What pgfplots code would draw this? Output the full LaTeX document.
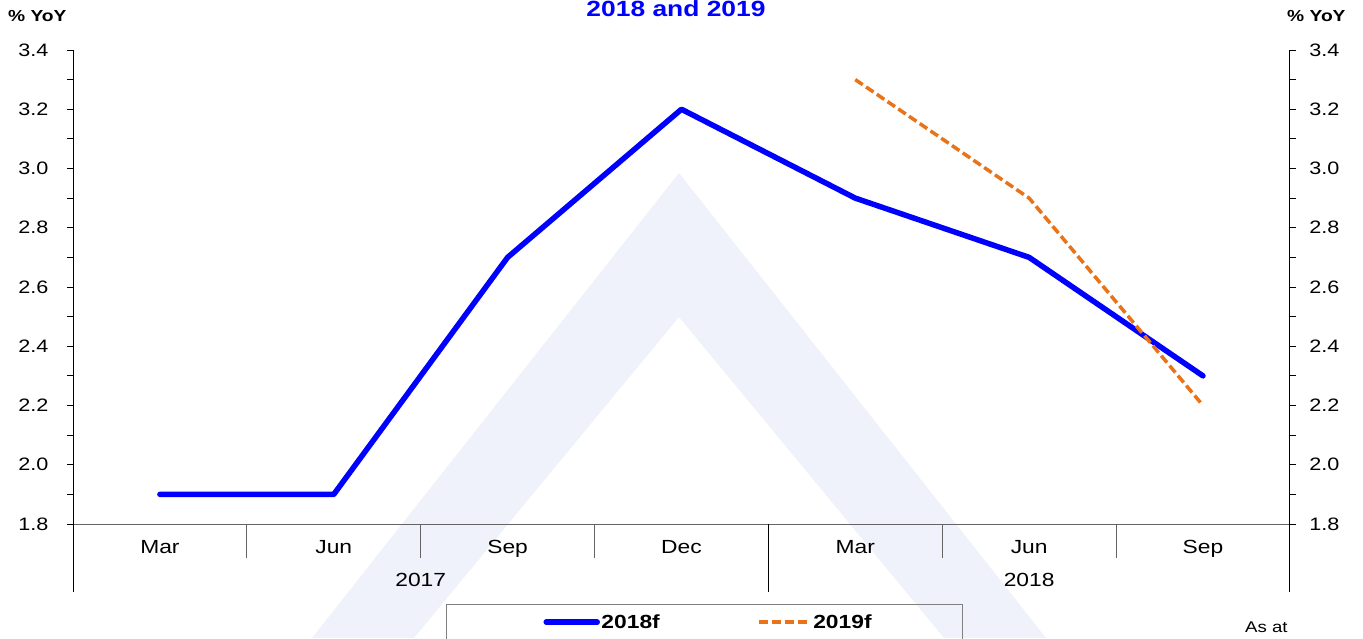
\documentclass[border=0pt]{standalone}
\usepackage{pgfplots}
\usepackage{pgfplotstable}
\pgfplotsset{compat=1.18}
\usepackage{fontspec}
\setmainfont[FakeStretch=1.2]{Liberation Sans}
\definecolor{wm}{RGB}{239,241,251}
\definecolor{orng}{RGB}{232,115,25}
\definecolor{ln}{RGB}{100,100,100}
\definecolor{lg}{RGB}{128,128,128}
\definecolor{ttl}{RGB}{0,0,255}
\pgfplotstableread{
x y
0.5 1.9
1.5 1.9
2.5 2.7
3.5 3.2
4.5 2.9
5.5 2.7
6.5 2.3
}\dataA
\pgfplotstableread{
x y
4.5 3.3
5.5 2.9
6.5 2.2
}\dataB
\pgfplotsset{
  base/.style={
    at={(73pt,114pt)}, anchor=south west, scale only axis,
    width=1217pt, height=474pt,
    xmin=0, xmax=7, ymin=1.8, ymax=3.4,
    ytick={1.8,2.0,2.2,2.4,2.6,2.8,3.0,3.2,3.4}, minor y tick num=1,
    tick align=outside,
    major tick length=6pt, minor tick length=6pt,
    tick style={black, line width=0.8pt},
    /pgf/number format/assume math mode=true,
    y tick label style={/pgf/number format/.cd, fixed, fixed zerofill, precision=1, /tikz/.cd, font=\fontsize{18}{21}\selectfont},
  }
}
\begin{document}
\begin{tikzpicture}[x=1pt,y=1pt]
\path[use as bounding box] (0,0) rectangle (1363,638);
\begin{scope}
\clip (0,0) rectangle (1363,638);
\fill[wm,even odd rule] (312,0) -- (679,465) -- (1046,0) -- cycle (414,0) -- (679,321) -- (944,0) -- cycle;
\begin{axis}[base,
  axis x line*=bottom, axis y line*=left,
  x axis line style={draw=ln, line width=1pt},
  y axis line style={black, line width=1pt},
  y tick label style={xshift=-15pt},
  xtick={0.5,1.5,2.5,3.5,4.5,5.5,6.5},
  xticklabels={Mar,Jun,Sep,Dec,Mar,Jun,Sep},
  x tick style={draw=none},
  x tick label style={font=\fontsize{19}{22}\selectfont, yshift=-7pt},
  clip=false,
  legend columns=2,
  legend style={at={(axis description cs:0.3065,-0.1688)}, anchor=north west,
    draw=lg, line width=1pt, fill=none, font=\bfseries\fontsize{19}{22}\selectfont,
    inner xsep=97pt, inner ysep=8pt,
    nodes={inner xsep=1.5pt, inner ysep=2pt},
    /tikz/every even column/.append style={column sep=96pt}},
  legend image code/.code={\draw[#1] (0pt,0pt) -- (51pt,0pt);},
]
\addplot[ttl, line width=5.5pt, line join=round, line cap=round] table[x=x,y=y]{\dataA};
\addlegendentry{2018f}
\addplot[orng, line width=3.5pt, dash pattern=on 9pt off 4pt] table[x=x,y=y]{\dataB};
\addlegendentry{\makebox[51pt][l]{2019f}}
\pgfplotsinvokeforeach{1,2,3,5,6}{
  \draw[ln, line width=1pt] (axis cs:#1,1.8) -- (axis cs:#1,1.6852);
}
\draw[black, line width=1pt] (axis cs:4,1.8) -- (axis cs:4,1.5705);
\draw[black, line width=1pt] (axis cs:0,1.8) -- (axis cs:0,1.5705);
\draw[black, line width=1pt] (axis cs:7,1.8) -- (axis cs:7,1.5705);
\node[font=\fontsize{19}{22}\selectfont, anchor=base, yshift=-62pt] at (axis cs:2,1.8) {2017};
\node[font=\fontsize{19}{22}\selectfont, anchor=base, yshift=-62pt] at (axis cs:5.5,1.8) {2018};
\end{axis}
\begin{axis}[base,
  axis x line=none, axis y line*=right,
  y axis line style={black, line width=1pt},
  y tick label style={xshift=10pt},
]
\end{axis}
\node[anchor=base, text=ttl, font=\bfseries\fontsize{22}{26}\selectfont] at (676,621) {2018 and 2019};
\node[anchor=base west, inner sep=0pt, font=\bfseries\fontsize{16}{19}\selectfont] at (8,616) {\% YoY};
\node[anchor=base west, inner sep=0pt, font=\bfseries\fontsize{16}{19}\selectfont] at (1287,616) {\% YoY};
\node[anchor=base west, inner sep=0pt, font=\fontsize{15.5}{18}\selectfont] at (1245,6) {As at};
\end{scope}
\end{tikzpicture}
\end{document}
